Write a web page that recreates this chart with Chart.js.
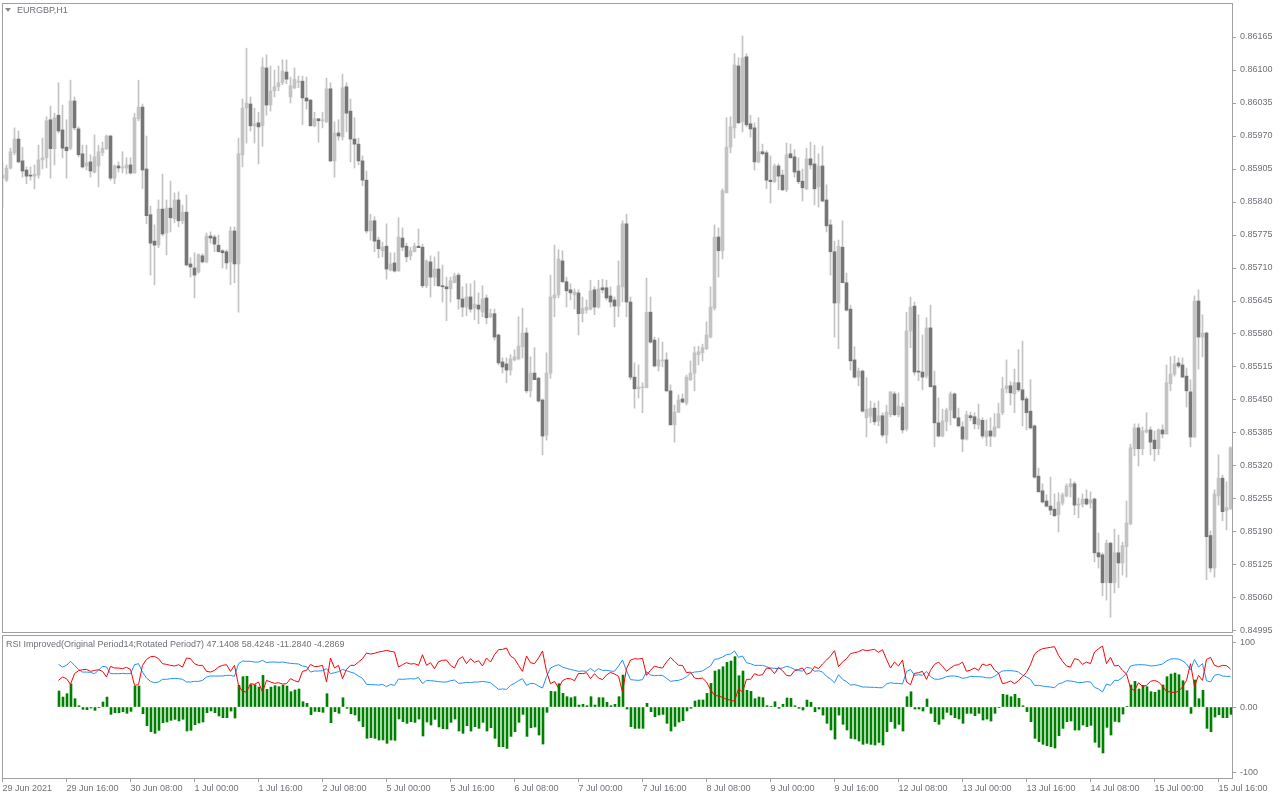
<!DOCTYPE html>
<html>
<head>
<meta charset="utf-8">
<script src="https://cdn.jsdelivr.net/npm/chart.js@4.4.1/dist/chart.umd.min.js"></script>
<style>
html, body { margin: 0; padding: 0; background: #fff; }
body { width: 1280px; height: 800px; position: relative; overflow: hidden; font-family: "Liberation Sans", Arial, sans-serif; }
canvas { position: absolute; left: 0; }
#main { top: 0; }
#ind { top: 634px; }
.lbl { position: absolute; font-size: 9px; line-height: 10px; color: #6e7079; white-space: nowrap; }
#sym { left: 17px; top: 5px; }
#tri { position: absolute; left: 5px; top: 8px; width: 0; height: 0; border-left: 3px solid transparent; border-right: 3px solid transparent; border-top: 4px solid #8a8a8a; }
#indTitle { left: 6px; top: 639px; }
</style>
</head>
<body>
<canvas id="main" width="1280" height="640"></canvas>
<canvas id="ind" width="1280" height="166"></canvas>
<div id="tri"></div>
<div class="lbl" id="sym">EURGBP,H1</div>
<div class="lbl" id="indTitle">RSI Improved(Original Period14;Rotated Period7) 47.1408 58.4248 -11.2840 -4.2869</div>
<script>
// time axis labels, one every 16 hourly bars
var timeLabels = ["29 Jun 2021", "29 Jun 16:00", "30 Jun 08:00", "1 Jul 00:00", "1 Jul 16:00",
	"2 Jul 08:00", "5 Jul 00:00", "5 Jul 16:00", "6 Jul 08:00", "7 Jul 00:00", "7 Jul 16:00",
	"8 Jul 08:00", "9 Jul 00:00", "9 Jul 16:00", "12 Jul 08:00", "13 Jul 00:00", "13 Jul 16:00",
	"14 Jul 08:00", "15 Jul 00:00", "15 Jul 16:00"];
var barsPerLabel = 16;

var priceTicks = [0.84995, 0.85060, 0.85125, 0.85190, 0.85255, 0.85320, 0.85385, 0.85450, 0.85515,
	0.85580, 0.85645, 0.85710, 0.85775, 0.85840, 0.85905, 0.85970, 0.86035, 0.86100, 0.86165];
var rsiTicks = [100, 0, -100];

// EURGBP H1 candles
var openP = [
	0.85887,0.85883,0.85907,0.85937,0.85964,0.85921,0.85903,0.85893,0.85891,0.85893,
	0.85923,0.85927,0.86002,0.85945,0.86011,0.85982,0.85948,0.85946,0.86039,0.85984,
	0.85935,0.85911,0.85919,0.85899,0.85911,0.85937,0.85945,0.85970,0.85887,0.85911,
	0.85907,0.85907,0.85913,0.85897,0.86004,0.86027,0.85905,0.85815,0.85763,0.85755,
	0.85826,0.85779,0.85828,0.85807,0.85844,0.85803,0.85820,0.85718,0.85710,0.85702,
	0.85734,0.85722,0.85773,0.85771,0.85755,0.85744,0.85742,0.85722,0.85783,0.85718,
	0.85933,0.86025,0.86033,0.85990,0.85996,0.85990,0.86104,0.86031,0.86059,0.86067,
	0.86075,0.86096,0.86047,0.86065,0.86076,0.86078,0.86045,0.86041,0.85990,0.86004,
	0.86000,0.85998,0.86063,0.85921,0.85976,0.85968,0.86067,0.86019,0.85964,0.85954,
	0.85921,0.85883,0.85783,0.85803,0.85765,0.85744,0.85753,0.85706,0.85720,0.85704,
	0.85769,0.85753,0.85734,0.85742,0.85753,0.85751,0.85675,0.85722,0.85692,0.85708,
	0.85675,0.85673,0.85669,0.85681,0.85696,0.85649,0.85633,0.85653,0.85631,0.85637,
	0.85623,0.85651,0.85614,0.85620,0.85578,0.85525,0.85521,0.85509,0.85529,0.85531,
	0.85555,0.85582,0.85468,0.85503,0.85493,0.85450,0.85381,0.85503,0.85651,0.85657,
	0.85724,0.85683,0.85667,0.85657,0.85661,0.85620,0.85627,0.85629,0.85667,0.85633,
	0.85671,0.85671,0.85655,0.85647,0.85635,0.85673,0.85797,0.85643,0.85495,0.85472,
	0.85474,0.85474,0.85623,0.85568,0.85517,0.85527,0.85529,0.85468,0.85401,0.85426,
	0.85452,0.85444,0.85490,0.85503,0.85539,0.85543,0.85551,0.85574,0.85631,0.85771,
	0.85744,0.85858,0.85948,0.85986,0.86108,0.85998,0.86126,0.85994,0.85986,0.85919,
	0.85939,0.85937,0.85883,0.85880,0.85911,0.85893,0.85864,0.85935,0.85929,0.85901,
	0.85881,0.85866,0.85925,0.85915,0.85870,0.85911,0.85844,0.85795,0.85742,0.85641,
	0.85751,0.85681,0.85629,0.85529,0.85495,0.85507,0.85415,0.85418,0.85434,0.85409,
	0.85419,0.85381,0.85421,0.85462,0.85421,0.85436,0.85393,0.85586,0.85635,0.85507,
	0.85505,0.85497,0.85592,0.85478,0.85405,0.85379,0.85407,0.85430,0.85462,0.85415,
	0.85397,0.85373,0.85419,0.85417,0.85401,0.85410,0.85377,0.85389,0.85379,0.85395,
	0.85425,0.85472,0.85478,0.85462,0.85484,0.85470,0.85452,0.85428,0.85399,0.85300,
	0.85271,0.85251,0.85241,0.85235,0.85224,0.85247,0.85261,0.85279,0.85285,0.85243,
	0.85245,0.85255,0.85247,0.85255,0.85149,0.85145,0.85090,0.85168,0.85090,0.85149,
	0.85129,0.85161,0.85206,0.85354,0.85395,0.85354,0.85387,0.85391,0.85371,0.85354,
	0.85391,0.85383,0.85482,0.85501,0.85523,0.85519,0.85497,0.85466,0.85377,0.85645,
	0.85574,0.85582,0.85183,0.85119,0.85261,0.85296,0.85232,0.85236
];
var highP = [
	0.85917,0.85913,0.85946,0.85986,0.85980,0.85948,0.85909,0.85909,0.85913,0.85952,
	0.85966,0.86008,0.86029,0.86015,0.86075,0.86031,0.86002,0.86080,0.86047,0.85988,
	0.85952,0.85952,0.85933,0.85972,0.85952,0.85958,0.85972,0.85972,0.85913,0.85919,
	0.85939,0.85927,0.85927,0.86015,0.86080,0.86033,0.85970,0.85832,0.85795,0.85844,
	0.85895,0.85844,0.85881,0.85858,0.85860,0.85834,0.85854,0.85730,0.85740,0.85738,
	0.85738,0.85779,0.85781,0.85775,0.85775,0.85746,0.85746,0.85791,0.85791,0.85966,
	0.86043,0.86143,0.86047,0.86025,0.86017,0.86124,0.86130,0.86108,0.86100,0.86108,
	0.86120,0.86120,0.86086,0.86104,0.86088,0.86088,0.86086,0.86041,0.86017,0.86004,
	0.86017,0.86084,0.86075,0.85998,0.86002,0.86092,0.86075,0.86043,0.86006,0.85966,
	0.85931,0.85901,0.85816,0.85811,0.85771,0.85761,0.85797,0.85740,0.85740,0.85809,
	0.85789,0.85759,0.85751,0.85759,0.85787,0.85757,0.85726,0.85734,0.85732,0.85742,
	0.85716,0.85692,0.85692,0.85700,0.85700,0.85673,0.85679,0.85679,0.85685,0.85661,
	0.85675,0.85657,0.85629,0.85629,0.85580,0.85533,0.85533,0.85539,0.85549,0.85614,
	0.85631,0.85592,0.85535,0.85553,0.85495,0.85452,0.85543,0.85696,0.85755,0.85746,
	0.85744,0.85692,0.85679,0.85669,0.85667,0.85653,0.85647,0.85686,0.85673,0.85686,
	0.85688,0.85686,0.85673,0.85653,0.85724,0.85803,0.85816,0.85653,0.85523,0.85519,
	0.85484,0.85690,0.85653,0.85574,0.85572,0.85564,0.85543,0.85480,0.85440,0.85460,
	0.85462,0.85499,0.85527,0.85555,0.85556,0.85560,0.85604,0.85673,0.85795,0.85789,
	0.85866,0.86006,0.86008,0.86132,0.86124,0.86167,0.86132,0.86011,0.85996,0.86006,
	0.85954,0.85941,0.85931,0.85915,0.85915,0.85903,0.85956,0.85954,0.85943,0.85927,
	0.85905,0.85946,0.85958,0.85952,0.85935,0.85950,0.85874,0.85805,0.85763,0.85765,
	0.85803,0.85700,0.85637,0.85555,0.85513,0.85509,0.85494,0.85448,0.85444,0.85448,
	0.85425,0.85440,0.85466,0.85466,0.85464,0.85444,0.85623,0.85653,0.85643,0.85618,
	0.85578,0.85612,0.85637,0.85507,0.85454,0.85432,0.85434,0.85466,0.85464,0.85434,
	0.85407,0.85428,0.85426,0.85425,0.85442,0.85415,0.85411,0.85415,0.85423,0.85444,
	0.85495,0.85529,0.85486,0.85511,0.85549,0.85566,0.85456,0.85490,0.85401,0.85316,
	0.85285,0.85263,0.85298,0.85265,0.85267,0.85267,0.85285,0.85295,0.85289,0.85257,
	0.85265,0.85273,0.85269,0.85257,0.85188,0.85149,0.85174,0.85170,0.85196,0.85184,
	0.85170,0.85251,0.85363,0.85403,0.85403,0.85397,0.85425,0.85397,0.85389,0.85393,
	0.85401,0.85519,0.85535,0.85537,0.85533,0.85533,0.85513,0.85490,0.85655,0.85667,
	0.85618,0.85584,0.85192,0.85273,0.85342,0.85302,0.85289,0.85358
];
var lowP = [
	0.85830,0.85880,0.85905,0.85933,0.85917,0.85889,0.85876,0.85883,0.85866,0.85887,
	0.85905,0.85907,0.85887,0.85913,0.85976,0.85927,0.85887,0.85943,0.85982,0.85929,
	0.85907,0.85903,0.85889,0.85897,0.85870,0.85931,0.85943,0.85883,0.85876,0.85899,
	0.85897,0.85895,0.85895,0.85897,0.86000,0.85866,0.85797,0.85696,0.85677,0.85750,
	0.85773,0.85736,0.85781,0.85799,0.85791,0.85797,0.85714,0.85692,0.85651,0.85700,
	0.85720,0.85720,0.85759,0.85742,0.85742,0.85710,0.85708,0.85677,0.85681,0.85623,
	0.85909,0.85956,0.85980,0.85956,0.85915,0.85950,0.86011,0.86019,0.86047,0.86059,
	0.86071,0.86073,0.86035,0.86063,0.86065,0.85992,0.86023,0.85990,0.85988,0.85958,
	0.85986,0.85996,0.85919,0.85889,0.85962,0.85962,0.85978,0.85919,0.85907,0.85913,
	0.85872,0.85779,0.85765,0.85742,0.85730,0.85732,0.85688,0.85704,0.85702,0.85704,
	0.85744,0.85722,0.85726,0.85742,0.85750,0.85671,0.85671,0.85653,0.85675,0.85673,
	0.85643,0.85606,0.85643,0.85681,0.85629,0.85614,0.85616,0.85623,0.85608,0.85600,
	0.85614,0.85600,0.85612,0.85568,0.85519,0.85503,0.85484,0.85499,0.85527,0.85529,
	0.85533,0.85464,0.85456,0.85490,0.85446,0.85342,0.85371,0.85493,0.85614,0.85651,
	0.85681,0.85633,0.85647,0.85629,0.85578,0.85604,0.85621,0.85627,0.85618,0.85631,
	0.85661,0.85647,0.85633,0.85594,0.85614,0.85643,0.85614,0.85490,0.85434,0.85454,
	0.85425,0.85474,0.85562,0.85515,0.85507,0.85515,0.85466,0.85401,0.85367,0.85425,
	0.85444,0.85440,0.85488,0.85468,0.85519,0.85527,0.85549,0.85572,0.85627,0.85692,
	0.85728,0.85858,0.85937,0.85966,0.85994,0.85978,0.85988,0.85968,0.85903,0.85917,
	0.85933,0.85866,0.85838,0.85878,0.85864,0.85862,0.85860,0.85927,0.85889,0.85876,
	0.85842,0.85864,0.85905,0.85834,0.85830,0.85840,0.85781,0.85696,0.85574,0.85551,
	0.85681,0.85625,0.85509,0.85493,0.85478,0.85426,0.85377,0.85405,0.85401,0.85399,
	0.85377,0.85365,0.85417,0.85419,0.85417,0.85385,0.85389,0.85553,0.85499,0.85488,
	0.85470,0.85493,0.85476,0.85358,0.85377,0.85377,0.85389,0.85401,0.85413,0.85397,
	0.85348,0.85371,0.85409,0.85393,0.85393,0.85375,0.85360,0.85358,0.85377,0.85395,
	0.85421,0.85464,0.85440,0.85425,0.85466,0.85399,0.85391,0.85393,0.85296,0.85269,
	0.85247,0.85239,0.85224,0.85220,0.85190,0.85243,0.85259,0.85259,0.85224,0.85218,
	0.85239,0.85243,0.85237,0.85131,0.85119,0.85064,0.85056,0.85022,0.85070,0.85080,
	0.85105,0.85101,0.85204,0.85340,0.85320,0.85342,0.85385,0.85342,0.85330,0.85342,
	0.85375,0.85383,0.85468,0.85497,0.85513,0.85495,0.85436,0.85358,0.85377,0.85511,
	0.85535,0.85096,0.85111,0.85101,0.85243,0.85212,0.85194,0.85234
];
var closeP = [
	0.85893,0.85907,0.85939,0.85964,0.85919,0.85901,0.85891,0.85891,0.85895,0.85923,
	0.85927,0.86000,0.85945,0.86006,0.85980,0.85946,0.85941,0.86039,0.85986,0.85933,
	0.85909,0.85917,0.85901,0.85929,0.85939,0.85946,0.85970,0.85887,0.85911,0.85907,
	0.85909,0.85913,0.85897,0.86006,0.86027,0.85903,0.85813,0.85759,0.85755,0.85826,
	0.85777,0.85828,0.85809,0.85844,0.85803,0.85820,0.85716,0.85712,0.85696,0.85736,
	0.85722,0.85773,0.85769,0.85757,0.85742,0.85740,0.85720,0.85783,0.85718,0.85935,
	0.86025,0.86035,0.85990,0.85994,0.85988,0.86106,0.86031,0.86059,0.86067,0.86075,
	0.86098,0.86082,0.86069,0.86082,0.86078,0.86045,0.86039,0.85990,0.86004,0.86000,
	0.86002,0.86063,0.85921,0.85976,0.85970,0.86065,0.86015,0.85964,0.85954,0.85921,
	0.85883,0.85783,0.85803,0.85763,0.85748,0.85751,0.85708,0.85718,0.85704,0.85771,
	0.85751,0.85732,0.85744,0.85753,0.85750,0.85675,0.85724,0.85692,0.85708,0.85675,
	0.85673,0.85669,0.85685,0.85694,0.85649,0.85633,0.85653,0.85629,0.85639,0.85629,
	0.85649,0.85612,0.85620,0.85574,0.85523,0.85515,0.85509,0.85531,0.85535,0.85556,
	0.85582,0.85468,0.85503,0.85490,0.85448,0.85379,0.85503,0.85653,0.85657,0.85728,
	0.85683,0.85665,0.85661,0.85663,0.85620,0.85631,0.85633,0.85665,0.85633,0.85669,
	0.85667,0.85651,0.85643,0.85635,0.85675,0.85797,0.85643,0.85495,0.85472,0.85476,
	0.85476,0.85623,0.85564,0.85517,0.85529,0.85529,0.85468,0.85401,0.85426,0.85450,
	0.85446,0.85495,0.85503,0.85543,0.85545,0.85553,0.85578,0.85633,0.85771,0.85744,
	0.85862,0.85948,0.85988,0.86110,0.85996,0.86124,0.85992,0.85984,0.85919,0.85939,
	0.85935,0.85883,0.85880,0.85911,0.85891,0.85864,0.85933,0.85927,0.85899,0.85880,
	0.85868,0.85925,0.85913,0.85866,0.85911,0.85842,0.85793,0.85742,0.85641,0.85753,
	0.85681,0.85627,0.85527,0.85495,0.85507,0.85428,0.85432,0.85434,0.85407,0.85419,
	0.85381,0.85426,0.85466,0.85421,0.85438,0.85391,0.85586,0.85633,0.85505,0.85505,
	0.85495,0.85592,0.85476,0.85405,0.85379,0.85409,0.85430,0.85462,0.85415,0.85399,
	0.85373,0.85421,0.85415,0.85403,0.85413,0.85379,0.85389,0.85379,0.85397,0.85423,
	0.85472,0.85478,0.85464,0.85484,0.85470,0.85450,0.85425,0.85395,0.85298,0.85269,
	0.85249,0.85241,0.85233,0.85222,0.85249,0.85263,0.85281,0.85285,0.85243,0.85245,
	0.85255,0.85245,0.85253,0.85149,0.85141,0.85090,0.85168,0.85090,0.85149,0.85129,
	0.85163,0.85208,0.85356,0.85395,0.85354,0.85389,0.85391,0.85367,0.85354,0.85391,
	0.85383,0.85484,0.85501,0.85521,0.85517,0.85495,0.85468,0.85377,0.85645,0.85574,
	0.85582,0.85181,0.85119,0.85265,0.85296,0.85230,0.85238,0.85356
];

// RSI Improved buffers (first 14 bars empty)
var rsiRed = [null,null,null,null,null,null,null,null,null,null,null,null,null,null,
	41.0,46.2,43.6,34.9,51.3,55.9,57.4,57.9,54.9,56.4,
	57.4,54.9,46.2,62.6,60.0,60.0,59.0,61.0,57.9,33.3,
	34.4,64.1,73.3,77.4,77.9,74.4,66.7,65.6,64.1,63.1,
	65.1,61.5,75.4,74.4,66.7,64.1,64.1,54.9,53.8,56.4,
	61.5,64.1,65.1,54.9,64.1,33.3,24.1,23.1,35.9,34.9,
	38.5,23.1,41.0,38.5,36.4,37.4,35.4,35.9,43.6,40.5,
	38.5,54.9,56.4,65.6,62.1,62.6,64.1,38.5,75.4,60.0,
	64.1,43.6,57.9,64.1,64.1,69.2,74.4,83.1,81.5,82.6,
	84.6,85.6,87.2,85.6,84.6,61.5,65.1,68.2,66.2,66.7,
	64.1,80.5,64.1,68.2,59.0,69.7,71.8,72.3,64.1,60.0,
	73.3,77.4,66.7,74.4,68.7,71.3,63.1,75.4,69.2,80.5,
	88.2,88.7,90.8,78.5,74.4,64.1,54.9,78.5,68.2,66.7,
	75.4,86.2,54.9,35.9,39.5,29.2,40.5,43.6,43.6,40.5,
	51.8,51.3,52.8,43.6,51.3,44.6,42.1,49.2,53.3,50.8,
	47.2,23.1,59.0,72.3,74.4,73.8,74.9,48.7,56.4,63.1,
	61.0,60.0,69.2,76.4,70.3,64.1,64.1,52.8,53.8,44.6,
	43.6,44.6,38.5,26.7,17.9,16.9,14.9,11.8,10.8,8.7,
	28.2,23.1,42.6,42.6,51.3,48.7,49.7,60.0,59.0,51.3,
	61.0,55.9,48.7,47.7,55.9,57.9,60.0,50.3,52.8,62.1,
	59.0,66.2,72.3,78.5,86.7,62.1,69.2,74.4,82.1,83.6,
	85.1,88.2,86.7,87.7,88.7,84.1,88.2,73.3,60.0,69.2,
	63.1,72.3,38.5,34.4,51.8,52.8,54.9,42.6,56.4,65.6,
	69.2,62.6,54.9,60.0,64.1,65.1,69.2,54.9,56.9,60.0,
	56.4,66.2,63.6,66.2,56.9,52.3,35.9,37.4,40.0,35.9,
	40.5,47.2,53.3,65.1,81.5,86.7,89.7,90.8,91.8,92.8,
	79.5,70.3,63.1,61.5,74.4,72.8,65.6,69.2,66.7,84.6,
	89.7,93.8,66.7,76.4,63.1,64.1,56.4,50.8,29.2,25.1,
	37.4,31.8,33.3,39.5,41.0,38.5,32.3,24.1,23.1,22.1,
	24.1,30.8,41.0,66.7,31.8,48.7,41.0,73.3,76.4,64.1,
	62.1,64.1,63.6,58.4248
];
var rsiBlue = [null,null,null,null,null,null,null,null,null,null,null,null,null,null,
	65.6,61.5,64.1,70.3,64.1,57.9,53.8,53.8,53.3,51.3,
	56.4,62.6,61.5,51.3,51.3,51.3,51.8,51.3,51.3,65.1,
	66.7,53.8,44.6,39.5,37.4,38.5,42.6,42.6,43.6,44.1,
	43.6,42.6,38.5,38.5,39.5,39.5,41.0,46.2,47.7,47.7,
	47.7,47.7,48.7,48.7,47.2,66.7,70.8,70.3,70.3,69.2,
	69.2,71.8,68.2,69.2,69.2,68.7,69.2,68.2,67.2,66.7,
	66.2,63.1,62.1,53.8,55.4,55.4,55.9,59.0,51.3,52.8,
	54.4,57.9,55.9,53.8,51.8,47.7,44.1,34.9,34.4,34.4,
	33.8,34.9,31.3,34.9,33.3,43.1,42.6,43.1,43.6,43.1,
	45.6,35.9,41.0,40.5,40.0,39.0,38.5,38.5,40.5,41.5,
	36.4,36.9,37.9,37.4,38.5,38.5,39.5,38.5,37.4,32.3,
	27.2,27.7,27.2,33.3,36.4,40.5,43.6,33.3,36.4,35.9,
	32.3,29.2,46.7,60.0,63.1,65.1,61.5,59.5,57.9,56.4,
	54.9,55.4,54.9,59.5,54.4,59.0,56.4,56.4,55.4,54.9,
	63.1,72.3,55.9,42.1,41.5,41.0,42.1,54.4,49.2,48.2,
	48.7,48.7,44.1,39.5,40.5,41.0,43.1,46.7,51.8,53.8,
	54.4,55.4,59.5,63.1,73.3,74.4,76.9,80.5,81.5,86.2,
	76.4,78.5,68.2,66.7,64.1,64.1,64.1,62.1,60.0,59.5,
	59.0,60.0,62.6,61.0,57.9,55.9,55.4,61.0,60.0,54.9,
	55.9,53.8,47.2,43.1,37.4,49.7,42.6,39.0,33.8,34.4,
	32.8,30.8,30.8,30.3,30.3,29.7,29.7,35.4,37.4,36.4,
	36.4,35.4,54.4,57.9,48.7,49.7,48.7,54.9,46.7,43.1,
	42.6,44.1,46.7,47.7,47.7,46.7,44.1,45.1,47.2,46.7,
	46.7,46.2,45.1,44.6,47.2,51.8,55.4,55.9,55.9,55.4,
	53.8,49.2,46.2,42.6,33.3,33.3,32.3,31.3,30.8,29.7,
	35.4,37.4,40.5,40.0,39.0,37.4,37.9,39.0,38.5,30.3,
	27.7,23.1,35.4,33.3,41.0,41.0,45.6,51.8,63.1,64.6,
	65.1,65.1,64.6,63.1,63.6,64.6,66.2,70.8,73.8,74.4,
	73.8,71.3,66.2,56.9,73.3,61.5,66.7,40.5,38.5,48.7,
	50.3,47.7,47.2,47.1408
];
var rsiHist = [null,null,null,null,null,null,null,null,null,null,null,null,null,null,
	24.6,15.3,20.5,35.4,12.8,2.0,-3.6,-4.1,-1.6,-5.1,
	-1.0,7.7,15.3,-11.3,-8.7,-8.7,-7.2,-9.7,-6.6,31.8,
	32.3,-10.3,-28.7,-37.9,-40.5,-35.9,-24.1,-23.0,-20.5,-19.0,
	-21.5,-18.9,-36.9,-35.9,-27.2,-24.6,-23.1,-8.7,-6.1,-8.7,
	-13.8,-16.4,-16.4,-6.2,-16.9,33.4,46.7,47.2,34.4,34.3,
	30.7,48.7,27.2,30.7,32.8,31.3,33.8,32.3,23.6,26.2,
	27.7,8.2,5.7,-11.8,-6.7,-7.2,-8.2,20.5,-24.1,-7.2,
	-9.7,14.3,-2.0,-10.3,-12.3,-21.5,-30.3,-48.2,-47.1,-48.2,
	-50.8,-50.7,-55.9,-50.7,-51.3,-18.4,-22.5,-25.1,-22.6,-23.6,
	-18.5,-44.6,-23.1,-27.7,-19.0,-30.7,-33.3,-33.8,-23.6,-18.5,
	-36.9,-40.5,-28.8,-37.0,-30.2,-32.8,-23.6,-36.9,-31.8,-48.2,
	-61.0,-61.0,-63.6,-45.2,-38.0,-23.6,-11.3,-45.2,-31.8,-30.8,
	-43.1,-57.0,-8.2,24.1,23.6,35.9,21.0,15.9,14.3,15.9,
	3.1,4.1,2.1,15.9,3.1,14.4,14.3,7.2,2.1,4.1,
	15.9,49.2,-3.1,-30.2,-32.9,-32.8,-32.8,5.7,-7.2,-14.9,
	-12.3,-11.3,-25.1,-36.9,-29.8,-23.1,-21.0,-6.1,-2.0,9.2,
	10.8,10.8,21.0,36.4,55.4,57.5,62.0,68.7,70.7,77.5,
	48.2,55.4,25.6,24.1,12.8,15.4,14.4,2.1,1.0,8.2,
	-2.0,4.1,13.9,13.3,2.0,-2.0,-4.6,10.7,7.2,-7.2,
	-3.1,-12.4,-25.1,-35.4,-49.3,-12.4,-26.6,-35.4,-48.3,-49.2,
	-52.3,-57.4,-55.9,-57.4,-58.4,-54.4,-58.5,-37.9,-22.6,-32.8,
	-26.7,-36.9,15.9,23.5,-3.1,-3.1,-6.2,12.3,-9.7,-22.5,
	-26.6,-18.5,-8.2,-12.3,-16.4,-18.4,-25.1,-9.8,-9.7,-13.3,
	-9.7,-20.0,-18.5,-21.6,-9.7,-0.5,19.5,18.5,15.9,19.5,
	13.3,2.0,-7.1,-22.5,-48.2,-53.4,-57.4,-59.5,-61.0,-63.1,
	-44.1,-32.9,-22.6,-21.5,-35.4,-35.4,-27.7,-30.2,-28.2,-54.3,
	-62.0,-70.7,-31.3,-43.1,-22.1,-23.1,-10.8,1.0,33.9,39.5,
	27.7,33.3,31.3,23.6,22.6,26.1,33.9,46.7,50.7,52.3,
	49.7,40.5,25.2,-9.8,41.5,12.8,25.7,-32.8,-37.9,-15.4,
	-11.8,-16.4,-16.4,-11.2840
];

var textColor = "#6e7079";
var frameColor = "#a0a0a0";
var bullColor = "#c3c3c3";
var bearColor = "#767676";
var wickColor = "#c3c3c3";
var axisFont = { family: "Liberation Sans", size: 9 };

var framePlugin = {
	id: "frame",
	afterDraw: function (chart) {
		var a = chart.chartArea;
		var ctx = chart.ctx;
		ctx.save();
		ctx.strokeStyle = frameColor;
		ctx.lineWidth = 1;
		ctx.strokeRect(a.left + 0.5, a.top + 0.5, a.right - a.left, a.bottom - a.top);
		ctx.restore();
	}
};

function rightAxis(min, max, ticks, fmt) {
	return {
		position: "right",
		min: min,
		max: max,
		afterFit: function (s) {
			s.width = 48;
			s.paddingTop = 0;
			s.paddingBottom = 0;
		},
		afterBuildTicks: function (s) {
			s.ticks = ticks.map(function (v) { return { value: v }; });
		},
		grid: { drawOnChartArea: false, drawTicks: true, tickLength: 4, color: frameColor },
		border: { display: false },
		ticks: { color: textColor, font: axisFont, padding: 4, autoSkip: false, callback: fmt }
	};
}

var bodies = [];
var wicks = [];
var bodyColors = [];
for (var i = 0; i < openP.length; i++) {
	bodies.push({ x: i, y: [openP[i], closeP[i]] });
	wicks.push({ x: i, y: [lowP[i], highP[i]] });
	bodyColors.push(closeP[i] >= openP[i] ? bullColor : bearColor);
}

new Chart(document.getElementById("main"), {
	type: "bar",
	data: {
		datasets: [
			{ data: bodies, backgroundColor: bodyColors, barThickness: 3, grouped: false, minBarLength: 1, order: 0 },
			{ data: wicks, backgroundColor: wickColor, barThickness: 1, grouped: false, order: 1 }
		]
	},
	options: {
		responsive: false,
		animation: false,
		layout: { padding: { left: 2, top: 3, right: 0, bottom: 8 } },
		plugins: { legend: { display: false }, tooltip: { enabled: false } },
		scales: {
			x: { type: "linear", display: false, min: -0.125, max: 307.375, offset: false },
			y: rightAxis(0.84993, 0.86232, priceTicks, function (v) { return v.toFixed(5); })
		}
	},
	plugins: [framePlugin]
});

var redPts = [];
var bluePts = [];
var histPts = [];
for (var j = 0; j < rsiRed.length; j++) {
	redPts.push({ x: j, y: rsiRed[j] });
	bluePts.push({ x: j, y: rsiBlue[j] });
	histPts.push({ x: j, y: rsiHist[j] });
}

new Chart(document.getElementById("ind"), {
	type: "bar",
	data: {
		datasets: [
			{ type: "line", data: redPts, borderColor: "#ff0000", borderWidth: 1, pointRadius: 0, tension: 0, order: 0 },
			{ type: "line", data: bluePts, borderColor: "#1e90ff", borderWidth: 1, pointRadius: 0, tension: 0, order: 1 },
			{ type: "bar", data: histPts, xAxisID: "xh", backgroundColor: "#008000", barThickness: 2, grouped: false, order: 2 }
		]
	},
	options: {
		responsive: false,
		animation: false,
		layout: { padding: { left: 2, top: 1, right: 0, bottom: 0 } },
		plugins: { legend: { display: false }, tooltip: { enabled: false } },
		scales: {
			x: {
				type: "linear",
				min: -0.125,
				max: 307.375,
				offset: false,
				afterFit: function (s) {
					s.height = 22;
					s.paddingLeft = 0;
					s.paddingRight = 0;
				},
				afterBuildTicks: function (s) {
					s.ticks = timeLabels.map(function (t, k) { return { value: k * barsPerLabel }; });
				},
				grid: { drawOnChartArea: false, drawTicks: true, tickLength: 4, color: frameColor, offset: false },
				border: { display: false },
				ticks: {
					color: textColor, font: axisFont, align: "start", padding: 1,
					maxRotation: 0, autoSkip: false,
					callback: function (v, k) { return timeLabels[k]; }
				}
			},
			// same bar spacing, shifted half a pixel so 2px histogram lines stay sharp
			xh: { type: "linear", display: false, min: -0.25, max: 307.25, offset: false },
			y: rightAxis(-109.2, 110.8, rsiTicks, function (v) { return v === 0 ? "0.00" : String(v); })
		}
	},
	plugins: [framePlugin]
});
</script>
</body>
</html>
